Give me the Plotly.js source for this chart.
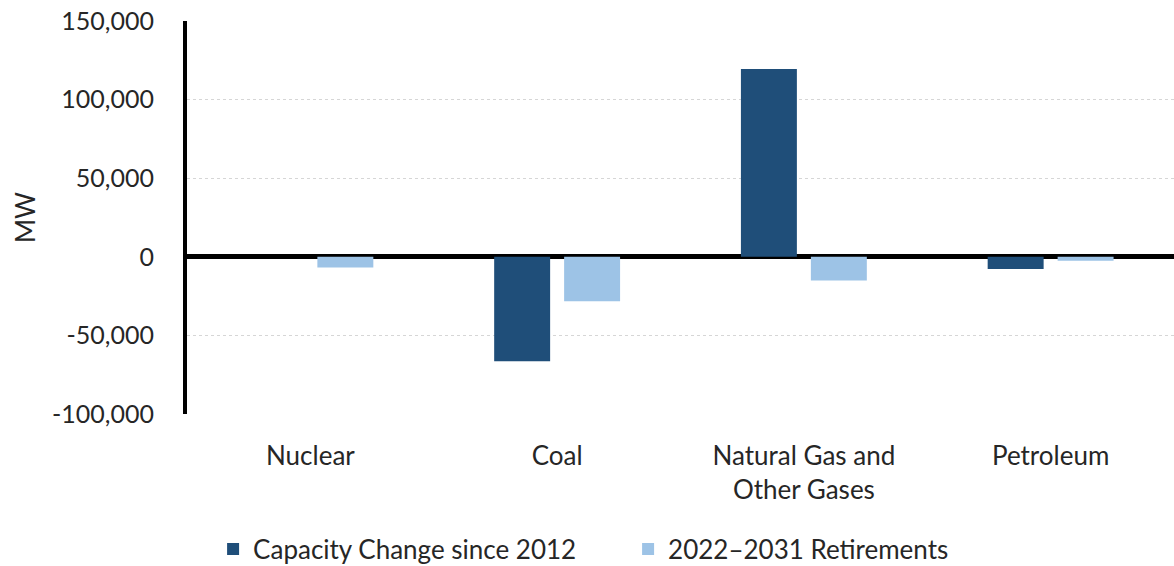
<!DOCTYPE html>
<html>
<head>
<meta charset="utf-8">
<script src="https://cdn.plot.ly/plotly-3.0.1.min.js"></script>
<style>html,body{margin:0;padding:0;background:#fff;}#chart{width:1174px;height:566px;}</style>
</head>
<body>
<div id="chart"></div>
<script>
const categories = ["Nuclear", "Coal", "Natural Gas and<br>Other Gases", "Petroleum"];
const capacityChange = [0, -66500, 119400, -7800];
const retirements = [-6800, -28300, -15000, -2500];
const seriesNames = ["Capacity Change since 2012", "2022\u20132031 Retirements"];
const yTickVals = [-100000, -50000, 0, 50000, 100000, 150000];
const yTickText = ["-100,000", "-50,000", "0", "50,000", "100,000", "150,000"];

const font = {family: "Lato, 'Open Sans', sans-serif", size: 26, color: "#262626"};
const tickFont = {family: "Lato, 'Open Sans', sans-serif", size: 25, color: "#262626"};

const traces = [
  {type: "bar", name: seriesNames[0], x: categories, y: capacityChange,
   marker: {color: "#1f4e79", line: {width: 0}}},
  {type: "bar", name: seriesNames[1], x: categories, y: retirements,
   marker: {color: "#9dc3e6", line: {width: 0}}}
];

const layout = {
  width: 1174, height: 566,
  margin: {l: 187, r: 0, t: 21, b: 152},
  paper_bgcolor: "#fff", plot_bgcolor: "#fff",
  font: font,
  barmode: "group", bargap: 0.433, bargroupgap: 0.2,
  showlegend: true,
  legend: {orientation: "h", xref: "container", yref: "container", x: 0.535, xanchor: "center",
           y: 0.03, yanchor: "middle", font: font, itemwidth: 30, tracegroupgap: 0,
           entrywidth: 370, entrywidthmode: "pixels"},
  xaxis: {showgrid: false, showline: false, zeroline: false, ticks: "", tickfont: font,
          ticklabelstandoff: 24, fixedrange: true},
  yaxis: {range: [-100000, 150000], tickvals: yTickVals, ticktext: yTickText, tickfont: tickFont,
          showgrid: true, gridcolor: "#d6d6d6", griddash: "dot", gridwidth: 1,
          zeroline: true, zerolinecolor: "#000", zerolinewidth: 5,
          showline: true, linecolor: "#000", linewidth: 4, ticks: "", ticklabelstandoff: 24,
          title: {text: "MW", font: font, standoff: 10}, fixedrange: true}
};

Plotly.newPlot("chart", traces, layout, {displayModeBar: false, staticPlot: true});
</script>
</body>
</html>
